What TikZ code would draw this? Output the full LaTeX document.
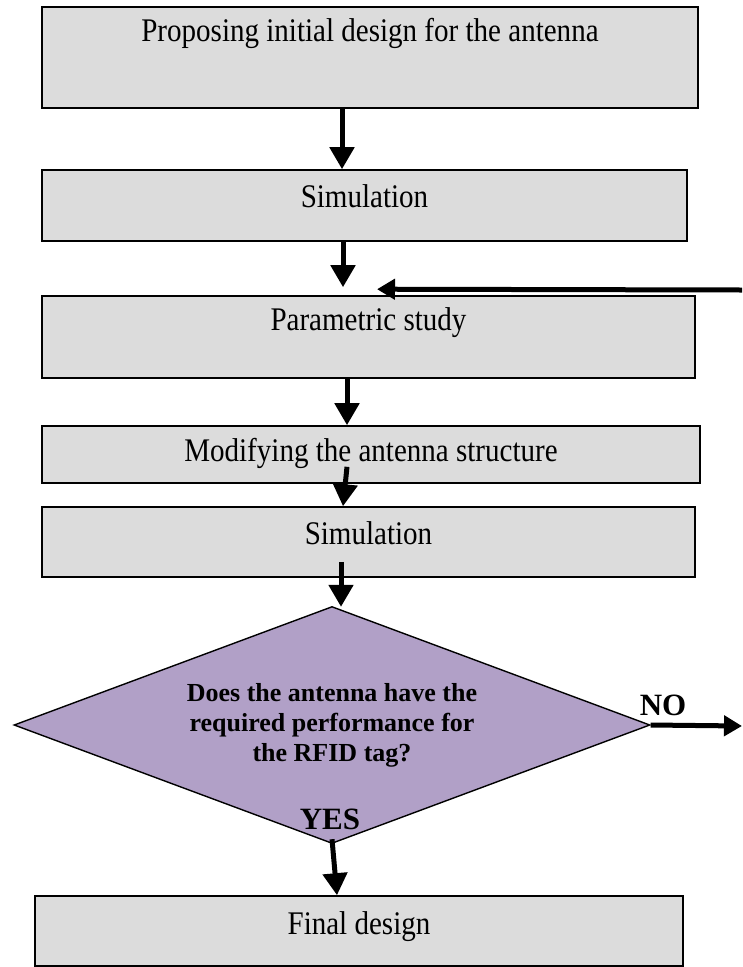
\documentclass[tikz,border=0pt]{standalone}
\usepackage{fontspec}
\setmainfont{Liberation Serif}
\newfontfamily\boxfont{Liberation Serif}[FakeStretch=0.88]
\usetikzlibrary{arrows.meta,shapes.geometric}
\definecolor{boxgray}{RGB}{220,220,220}
\definecolor{decpurple}{RGB}{177,160,199}

\begin{document}
\begin{tikzpicture}[
x=1pt, y=-1pt,
stepbox/.style={rectangle, draw=black, line width=1.6pt, fill=boxgray, inner sep=0pt, text height=23pt, font=\boxfont\fontsize{33}{40}\selectfont},
decnode/.style={diamond, aspect=2.68, draw=black, line width=1.4pt, fill=decpurple, inner sep=0pt, align=center, font=\bfseries\fontsize{26}{30}\selectfont},
anslabel/.style={inner sep=0pt, font=\bfseries\fontsize{31}{36}\selectfont},
flow/.style={line width=5pt, -{Triangle[width=24pt,length=22pt]}},
back/.style={line width=5pt, -{Triangle[width=20pt,length=18pt]}},
]
\useasboundingbox (0,0) rectangle (742,967);
%Nodes
\node[stepbox, minimum width=656pt, minimum height=101pt, text depth=56pt](init) at (370,57.5) {Proposing initial design for the antenna};
\node[stepbox, minimum width=645pt, minimum height=71pt, text depth=19pt](sim1) at (364.5,205.5) {Simulation};
\node[stepbox, minimum width=653pt, minimum height=82pt, text depth=36pt](param) at (368.5,337) {Parametric study};
\node[stepbox, minimum width=658pt, minimum height=57pt, text depth=9pt](modify) at (371,454.5) {Modifying the antenna structure};
\node[stepbox, minimum width=653pt, minimum height=70pt, text depth=19pt](sim2) at (368.5,542) {Simulation};
\node[decnode, minimum width=636pt, minimum height=237pt](dec) at (332,725) {Does the antenna have the\\required performance for\\the RFID tag?};
\node[anslabel](yes) at (330,819) {YES};
\node[anslabel](no) at (663,705) {NO};
\node[stepbox, minimum width=648pt, minimum height=70pt, text depth=17pt](final) at (359,931) {Final design};
\coordinate (loop) at (742,290);
\coordinate (noend) at (742,726);

%Arrows
\draw[flow] ([xshift=-28pt]init.south) -- ([xshift=-22.5pt]sim1.north);
\draw[flow] ([xshift=-21.5pt]sim1.south) -- ([xshift=-25.5pt,yshift=8pt]param.north);
\draw[back] (loop) -- ([xshift=8.5pt,yshift=6pt]param.north);
\draw[flow] ([xshift=-21.5pt]param.south) -- ([xshift=-24pt]modify.north);
\draw[flow] ([xshift=-24pt,yshift=17pt]modify.south) -- ([xshift=-25.5pt]sim2.north);
\draw[flow] ([xshift=-27.5pt,yshift=16pt]sim2.south) -- ([xshift=9pt,yshift=-1pt]dec.north);
\draw[flow] ([yshift=5pt]dec.south) -- ([xshift=-22pt]final.north);
\draw[back] (dec.east) -- (noend);
\end{tikzpicture}
\end{document}
